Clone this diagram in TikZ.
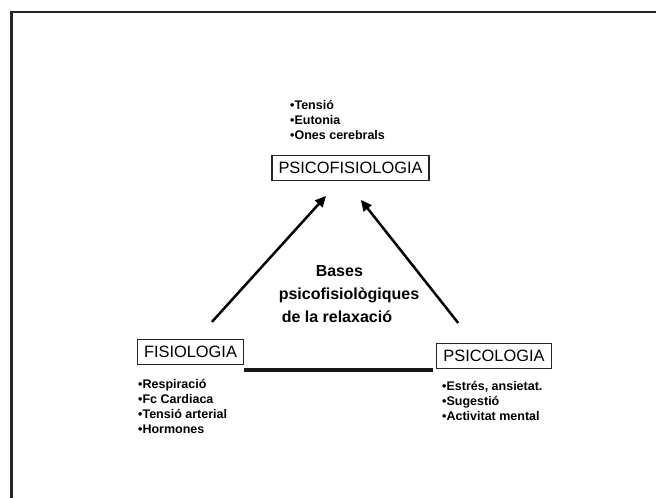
\documentclass[tikz,border=0pt]{standalone}
\usepackage{fontspec}
\setmainfont{Liberation Sans}
\usetikzlibrary{arrows.meta}

\begin{document}
\begin{tikzpicture}[x=1pt,y=-1pt,
		field/.style={draw=black!85,line width=1.1pt,inner xsep=6.5pt,inner ysep=0pt,minimum height=25pt,font=\fontsize{16.4}{18}\selectfont},
		items/.style={align=left,anchor=west,inner sep=0pt,font=\fontsize{12.5}{14.7}\selectfont\bfseries},
		toward/.style={line width=2.5pt,-{Triangle[length=11pt,width=10pt]}},
		link/.style={line width=4pt,black!90}]
			\useasboundingbox (0,0) rectangle (656,498);
			% marc
			\draw[line width=2.5pt,black!85] (11.5,498) -- (11.5,12) -- (656,12);
			\node[field] (psico) at (350.5,168){PSICOFISIOLOGIA};
			\node[field] (fisio) at (190.5,352){FISIOLOGIA};
			\node[field] (psicol) at (494,356){PSICOLOGIA};
			\node[items] (topitems) at (290,120){•Tensió\\•Eutonia\\•Ones cerebrals};
			\node[items] (fisioitems) at (138,406.5){•Respiració\\•Fc Cardiaca\\•Tensió arterial\\•Hormones};
			\node[items] (psicolitems) at (442,401){•Estrés, ansietat.\\•Sugestió\\•Activitat mental};
			\node[align=left,inner sep=0pt,font=\fontsize{16}{23}\selectfont\bfseries] (bases) at (349,294)
				{\hspace*{37pt}Bases\\psicofisiològiques\\\hspace*{3pt}de la relaxació};
			\draw[toward,shorten <=23pt,shorten >=20pt] ([xshift=6pt]fisio.north) -- ([xshift=-11pt]psico.south);
			\draw[toward,shorten <=25.5pt,shorten >=24pt] ([xshift=-20pt]psicol.north) -- ([xshift=-4.5pt]psico.south);
			\draw[link] ([yshift=-5pt]fisio.south east) -- ([yshift=-5pt,xshift=-3pt]fisio.south east -| psicol.west);
		\end{tikzpicture}
\end{document}
